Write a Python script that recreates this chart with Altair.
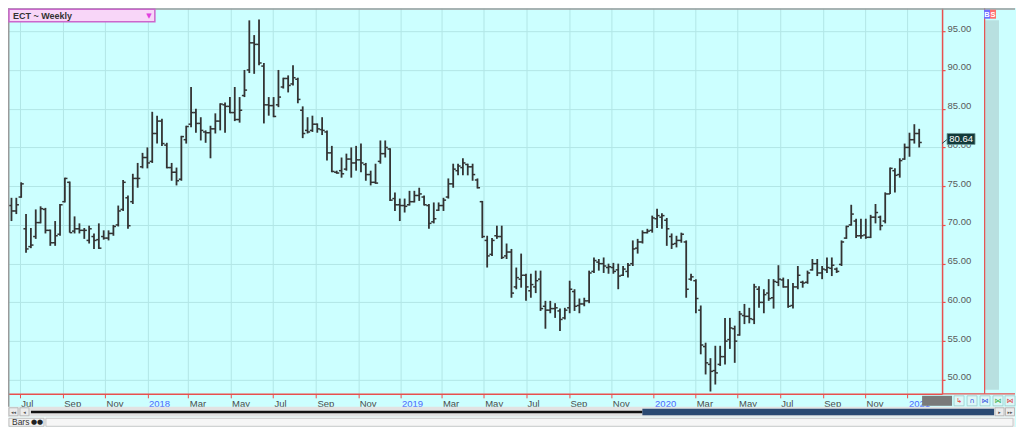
import altair as alt
import pandas as pd

# ---------------- data (weekly OHLC) ----------------
start_date = "2017-06-19"
highs = [
    73.5, 73.5, 75.5, 71.4, 69.6, 72.0, 72.4, 72.2, 69.4, 70.5,
    72.7, 76.1, 75.6, 71.1, 70.2, 69.6, 69.9, 68.9, 70.2, 69.3,
    69.3, 70.0, 72.5, 75.8, 73.8, 76.6, 78.0, 79.3, 80.0, 84.6,
    84.1, 83.7, 80.6, 78.0, 77.4, 81.5, 82.8, 87.8, 85.0, 83.9,
    82.2, 82.8, 84.4, 85.7, 85.8, 86.5, 87.8, 86.5, 90.0, 96.4,
    94.5, 96.5, 90.9, 86.5, 86.5, 90.0, 89.0, 89.3, 90.6, 89.0,
    85.3, 83.9, 84.1, 83.1, 83.9, 82.2, 80.2, 77.0, 78.7, 79.2,
    80.0, 80.2, 80.5, 78.0, 77.0, 77.9, 80.9, 80.9, 79.9, 74.2,
    73.4, 73.4, 74.4, 74.4, 74.8, 73.8, 72.7, 72.9, 72.9, 73.5,
    76.0, 77.9, 77.9, 78.6, 77.9, 77.9, 76.0, 73.1, 68.6, 68.3,
    69.9, 69.9, 67.6, 66.9, 64.5, 66.3, 63.7, 63.7, 64.1, 64.1,
    60.2, 60.2, 59.9, 59.2, 59.3, 62.8, 61.7, 60.5, 60.6, 64.1,
    65.8, 65.6, 65.8, 65.0, 65.1, 65.0, 64.7, 65.1, 68.0, 68.2,
    69.3, 69.5, 71.2, 72.1, 71.5, 70.9, 68.9, 68.6, 69.0, 68.0,
    63.7, 63.0, 59.6, 54.8, 52.8, 54.4, 54.4, 58.0, 58.0, 57.0,
    58.9, 59.8, 59.3, 62.4, 62.1, 61.7, 63.0, 63.0, 64.8, 63.2,
    63.0, 62.5, 64.7, 62.8, 64.1, 65.6, 65.6, 64.7, 65.8, 65.8,
    64.5, 68.0, 69.9, 72.6, 70.8, 70.8, 70.8, 71.3, 72.7, 71.2,
    74.2, 77.4, 77.3, 78.6, 80.5, 81.9, 83.0, 82.4,
]
lows = [
    70.5, 71.4, 73.5, 66.4, 67.0, 68.2, 70.2, 68.9, 67.3, 67.3,
    68.6, 72.9, 69.0, 68.9, 68.9, 68.2, 67.6, 66.9, 66.9, 68.1,
    68.0, 68.6, 69.8, 71.8, 69.5, 72.7, 74.8, 77.3, 77.3, 78.0,
    80.5, 80.2, 77.3, 75.7, 75.1, 75.7, 80.5, 82.6, 81.9, 80.9,
    80.6, 78.6, 81.8, 82.2, 81.9, 84.4, 83.4, 83.2, 86.5, 89.6,
    89.5, 90.6, 83.1, 84.1, 83.9, 85.2, 87.6, 87.1, 88.0, 85.7,
    81.2, 81.8, 82.0, 81.9, 81.6, 78.3, 76.8, 76.6, 76.1, 77.0,
    76.1, 77.0, 76.8, 75.7, 75.1, 75.3, 77.9, 78.7, 73.1, 71.8,
    70.5, 71.6, 72.5, 72.9, 73.1, 72.5, 69.5, 70.2, 71.8, 71.8,
    73.4, 74.8, 76.4, 76.4, 76.4, 75.7, 74.7, 68.3, 64.5, 66.0,
    68.2, 65.6, 65.6, 60.6, 61.7, 61.9, 60.2, 60.6, 61.2, 58.9,
    56.6, 58.6, 58.0, 56.3, 57.8, 58.6, 58.9, 58.6, 59.5, 59.9,
    63.8, 64.1, 63.8, 63.7, 63.7, 61.7, 63.4, 63.2, 64.7, 66.3,
    67.6, 68.9, 69.0, 69.6, 69.5, 67.3, 66.9, 67.1, 67.7, 60.6,
    62.8, 58.6, 53.3, 50.7, 48.5, 49.4, 51.8, 52.0, 54.0, 52.2,
    55.7, 57.2, 57.3, 57.2, 59.3, 58.6, 60.2, 59.2, 62.1, 61.9,
    59.3, 59.2, 61.7, 61.9, 62.4, 64.1, 63.4, 63.0, 63.8, 63.4,
    63.8, 64.7, 68.2, 69.9, 68.3, 68.2, 68.2, 68.3, 70.2, 69.3,
    70.2, 74.0, 74.2, 76.1, 78.4, 78.8, 80.5, 80.0,
]
opens = [
    72.5, 71.8, 73.6, 69.5, 67.2, 68.5, 70.3, 72.0, 69.3, 67.7,
    68.8, 73.0, 75.5, 69.2, 69.5, 69.3, 68.0, 68.5, 68.1, 68.5,
    68.3, 68.9, 70.0, 72.0, 73.5, 73.0, 76.0, 77.5, 78.7, 78.2,
    81.8, 83.4, 80.3, 77.4, 76.8, 75.9, 81.0, 83.0, 84.5, 83.1,
    82.0, 81.9, 82.4, 83.4, 85.5, 85.3, 84.5, 83.6, 86.7, 90.0,
    93.5, 93.3, 90.5, 85.5, 85.4, 85.5, 87.8, 88.9, 88.2, 88.8,
    84.8, 82.2, 82.2, 83.0, 82.3, 82.0, 79.3, 76.8, 77.0, 77.2,
    78.5, 78.0, 78.4, 77.8, 76.5, 75.5, 78.2, 79.2, 79.8, 73.4,
    72.6, 72.5, 72.6, 73.0, 73.8, 73.6, 72.5, 70.4, 71.9, 72.5,
    73.6, 75.3, 77.0, 77.4, 77.8, 77.5, 75.8, 73.0, 68.0, 66.2,
    68.6, 68.5, 66.0, 66.5, 62.0, 63.0, 63.5, 61.5, 62.0, 63.0,
    59.5, 59.0, 59.2, 58.9, 58.0, 59.3, 61.4, 59.6, 59.8, 60.2,
    64.0, 65.2, 65.0, 64.5, 64.5, 64.2, 63.5, 64.0, 65.0, 67.0,
    67.8, 69.0, 69.3, 70.8, 71.0, 70.6, 68.5, 67.6, 68.0, 67.8,
    63.0, 62.8, 59.0, 54.3, 52.0, 51.2, 52.0, 53.0, 55.2, 56.6,
    55.8, 58.3, 58.2, 57.8, 61.7, 60.0, 61.2, 60.6, 62.6, 62.9,
    62.0, 59.6, 62.0, 62.6, 62.6, 64.2, 65.0, 63.8, 64.2, 64.4,
    64.3, 64.9, 68.3, 70.0, 70.5, 68.6, 68.7, 68.4, 71.0, 71.0,
    70.5, 74.0, 77.0, 76.5, 78.5, 80.0, 81.0, 81.8,
]
closes = [
    71.8, 72.6, 75.3, 66.9, 67.4, 70.3, 72.1, 69.3, 67.7, 68.6,
    72.6, 76.0, 69.0, 69.5, 69.3, 69.3, 69.5, 68.0, 67.0, 68.3,
    68.9, 69.8, 71.8, 75.5, 69.9, 76.0, 76.0, 78.7, 78.0, 81.8,
    83.4, 80.5, 77.4, 76.8, 75.7, 81.4, 82.7, 84.5, 83.1, 82.2,
    81.9, 82.4, 83.4, 85.6, 85.3, 84.5, 83.6, 84.8, 87.4, 93.5,
    93.3, 90.9, 85.5, 85.4, 84.0, 86.5, 88.9, 88.0, 89.0, 86.2,
    81.8, 82.0, 83.0, 82.4, 82.2, 79.3, 76.9, 76.7, 76.6, 78.5,
    78.0, 78.4, 78.0, 76.5, 75.5, 75.4, 79.2, 80.0, 73.2, 72.6,
    72.5, 72.4, 73.0, 73.8, 74.0, 72.6, 70.2, 70.8, 72.5, 73.2,
    75.3, 77.2, 77.6, 78.0, 77.5, 76.5, 74.8, 68.5, 66.0, 68.0,
    68.5, 65.8, 66.5, 61.2, 63.2, 63.5, 62.0, 62.3, 62.8, 59.2,
    59.0, 59.2, 59.3, 57.8, 59.0, 61.7, 59.5, 59.8, 60.2, 63.8,
    65.4, 65.0, 64.7, 64.6, 64.0, 63.4, 64.3, 64.8, 66.9, 67.8,
    69.0, 69.2, 70.9, 71.2, 71.2, 69.5, 67.5, 68.0, 68.8, 61.7,
    63.3, 60.5, 54.5, 52.2, 51.1, 50.9, 53.0, 55.0, 56.7, 55.0,
    58.5, 58.2, 57.9, 62.0, 60.0, 61.0, 60.5, 62.7, 63.0, 62.0,
    59.5, 62.0, 63.5, 62.5, 63.8, 65.0, 63.8, 64.3, 64.5, 64.8,
    64.0, 67.8, 69.8, 71.4, 68.6, 68.6, 68.4, 71.0, 71.6, 69.9,
    74.0, 77.3, 76.4, 78.3, 80.0, 81.0, 81.8, 80.64,
]
y_tick_values = [50, 55, 60, 65, 70, 75, 80, 85, 90, 95]
x_tick_months = [(2017, 7), (2017, 9), (2017, 11), (2018, 1), (2018, 3), (2018, 5),
                 (2018, 7), (2018, 9), (2018, 11), (2019, 1), (2019, 3), (2019, 5),
                 (2019, 7), (2019, 9), (2019, 11), (2020, 1), (2020, 3), (2020, 5),
                 (2020, 7), (2020, 9), (2020, 11), (2021, 1)]
title_text = "ECT ~ Weekly"

dates = [d.strftime("%Y-%m-%d") for d in pd.date_range(start_date, periods=len(highs), freq="7D")]
df = pd.DataFrame({"date": dates, "open": opens, "high": highs, "low": lows, "close": closes})
last_df = pd.DataFrame({"date": [dates[-1]], "p": [closes[-1]]})
one = pd.DataFrame({"k": [0]})

# ---------------- styling ----------------
BG = "#CCFFFF"
GRID = "#B2E6E6"
RED = "#E8504F"
BAR = "#333333"
FONT = "Liberation Sans"
W, H = 935, 386

xscale = alt.Scale(type="utc", domain=[alt.DateTime(year=2017, month=6, date=14, utc=True),
                                       alt.DateTime(year=2021, month=2, date=20, utc=True)])
yscale = alt.Scale(domain=[48.2, 97.97], nice=False, zero=False)

x_axis = alt.Axis(
    values=[alt.DateTime(year=y, month=m, date=1, utc=True) for y, m in x_tick_months],
    labelExpr="utcmonth(datum.value) == 0 ? utcFormat(datum.value, '%Y') : utcFormat(datum.value, '%b')",
    labelColor={"condition": {"test": "utcmonth(datum.value) == 0", "value": "#4A66FF"}, "value": "#4A4A4A"},
    labelAlign="left", labelFont=FONT, labelFontSize=9.5, labelPadding=1, labelOffset=1,
    labelOverlap=False, labelFlush=False,
    tickColor=RED, tickSize=4, tickWidth=1,
    domainColor=RED, domainWidth=1.5,
    grid=True, gridColor=GRID, gridWidth=1, title=None,
)
y_axis = alt.Axis(
    orient="right", values=y_tick_values, format=".2f",
    labelFont=FONT, labelFontSize=9.5, labelColor="#5A5A5A", labelPadding=2, labelOffset=-3,
    tickColor=RED, tickSize=3, tickWidth=1.2,
    domainColor=RED, domainWidth=1.5,
    grid=True, gridColor=GRID, gridWidth=1, title=None,
)


def X(field):
    return alt.X(field, type="temporal", scale=xscale, axis=x_axis)


def Y(field):
    return alt.Y(field, type="quantitative", scale=yscale, axis=y_axis)


def box(x1, x2, y1, y2, fill, stroke=None, sw=0.0):
    kw = {"fill": fill}
    if stroke is not None:
        kw.update(stroke=stroke, strokeWidth=sw)
    return alt.Chart(one).mark_rect(**kw).encode(
        x=alt.value(x1), x2=alt.value(x2), y=alt.value(y1), y2=alt.value(y2))


def label(x, y, t, size, color, align="left", weight="normal", font=FONT):
    return alt.Chart(one).mark_text(align=align, baseline="middle", fontSize=size, color=color,
                                    fontWeight=weight, font=font).encode(
        x=alt.value(x), y=alt.value(y), text=alt.value(t))


# ---------------- data layers ----------------
base = alt.Chart(df)
hl = base.mark_rule(color=BAR, strokeWidth=1.8).encode(x=X("date"), y=Y("low"), y2="high")
op = base.mark_rule(color=BAR, strokeWidth=1.5, xOffset=-2.6, x2Offset=0).encode(
    x=X("date"), x2="date", y=Y("open"))
cl = base.mark_rule(color=BAR, strokeWidth=1.5, xOffset=0, x2Offset=2.6).encode(
    x=X("date"), x2="date", y=Y("close"))

# price marker (box on the right axis at the last close)
pbox = alt.Chart(last_df).mark_rect(fill="#123A3A", stroke="#6E9C9C", strokeWidth=0.8,
                                    yOffset=-9, y2Offset=2).encode(
    x=alt.value(940), x2=alt.value(968), y=Y("p"), y2="p")
ptxt = alt.Chart(last_df).mark_text(color="white", fontSize=9.5, font=FONT, yOffset=-3.5,
                                    align="center", baseline="middle").encode(
    x=alt.value(954), y=Y("p"), text=alt.Text("p:Q", format=".2f"))
plink = alt.Chart(last_df).mark_rule(color="#2A4A4A", strokeWidth=1, yOffset=1, y2Offset=-3).encode(
    x=alt.value(935), x2=alt.value(940), y=Y("p"), y2="p")

# ---------------- chrome / decorations ----------------
under = [
    box(978, 992, 12, 382, "#B8E0E0"),
    box(977, 978.2, 0, 386, RED),
    box(935, 1008, 385.3, 386.7, RED),
]
over = [
    box(0, 1008, 0, 1.5, "#9A9A9A"),
    box(0, 1.5, 0, 409, "#9A9A9A"),
    box(1, 147, 1, 13.5, "#F8D6F8", "#CC66CC", 1.5),
    label(5, 7.5, title_text, 9, "#333333", weight="bold"),
    label(141, 7.5, "\u25BC", 7, "#E040E0", align="center", font="DejaVu Sans"),
    box(977, 983, 1.5, 10.5, "#6F6FFF"),
    box(983, 989, 1.5, 10.5, "#FF6F6F"),
    label(980, 6.5, "B", 7.5, "white", align="center", weight="bold"),
    label(986, 6.5, "S", 7.5, "white", align="center", weight="bold"),
    box(915, 945, 388, 398, "#7A7A7A"),
    box(947, 957, 388, 398, "#DDF7F7", "#9CCACA", 0.8),
    box(960, 970, 388, 398, "#DDF7F7", "#9CCACA", 0.8),
    box(973, 983, 388, 398, "#DDF7F7", "#9CCACA", 0.8),
    box(986, 996, 388, 398, "#DDF7F7", "#9CCACA", 0.8),
    box(998, 1008, 388, 398, "#DDF7F7", "#9CCACA", 0.8),
    label(952, 393, "\u21B3", 7, "#E04040", align="center", font="DejaVu Sans"),
    label(965, 393, "\u2229", 7, "#3050E0", align="center", font="DejaVu Sans"),
    label(978, 393, "\u22C8", 7, "#3050E0", align="center", font="DejaVu Sans"),
    label(991, 393, "\u22C8", 7, "#30B040", align="center", font="DejaVu Sans"),
    label(1003, 393, "\u22C8", 7, "#E04040", align="center", font="DejaVu Sans"),
    box(0, 1008, 399, 409, "#E2E2E2"),
    box(1, 10, 400, 408, "#ECECEC", "#B0B0B0", 0.8),
    box(12, 21, 400, 408, "#ECECEC", "#B0B0B0", 0.8),
    label(5.5, 404, "\u25C2\u25C2", 5, "#555555", align="center", font="DejaVu Sans"),
    label(16.5, 404, "\u25C2", 5, "#555555", align="center", font="DejaVu Sans"),
    box(23, 635, 403, 405.5, "#111111"),
    box(635, 987, 401, 407.5, "#2B4A73"),
    box(988, 997, 400, 408, "#ECECEC", "#B0B0B0", 0.8),
    box(998.5, 1007.5, 400, 408, "#ECECEC", "#B0B0B0", 0.8),
    label(992.5, 404, "\u25B8", 5, "#555555", align="center", font="DejaVu Sans"),
    label(1003, 404, "\u25B8\u25B8", 5, "#555555", align="center", font="DejaVu Sans"),
    box(0, 1008, 409, 410, "#FFFFFF"),
    box(0, 1008, 410, 419, "#ECECEC"),
    box(1, 36, 410.5, 418.5, "#F2F2F2", "#B8B8B8", 0.8),
    label(4, 414.5, "Bars", 8.5, "#333333"),
    label(23, 414.5, "\u25CF\u25CF", 7, "#222222", font="DejaVu Sans"),
    box(38, 1006, 410.5, 418.5, "#F6F6F6", "#C0C0C0", 0.8),
]

chart = alt.layer(
    *under, hl, op, cl, plink, pbox, ptxt, *over
).properties(
    width=W, height=H, padding=0
).configure(
    background=BG
).configure_view(
    stroke=None
)

chart.save("out.html", embed_options={"renderer": "svg", "actions": False})
